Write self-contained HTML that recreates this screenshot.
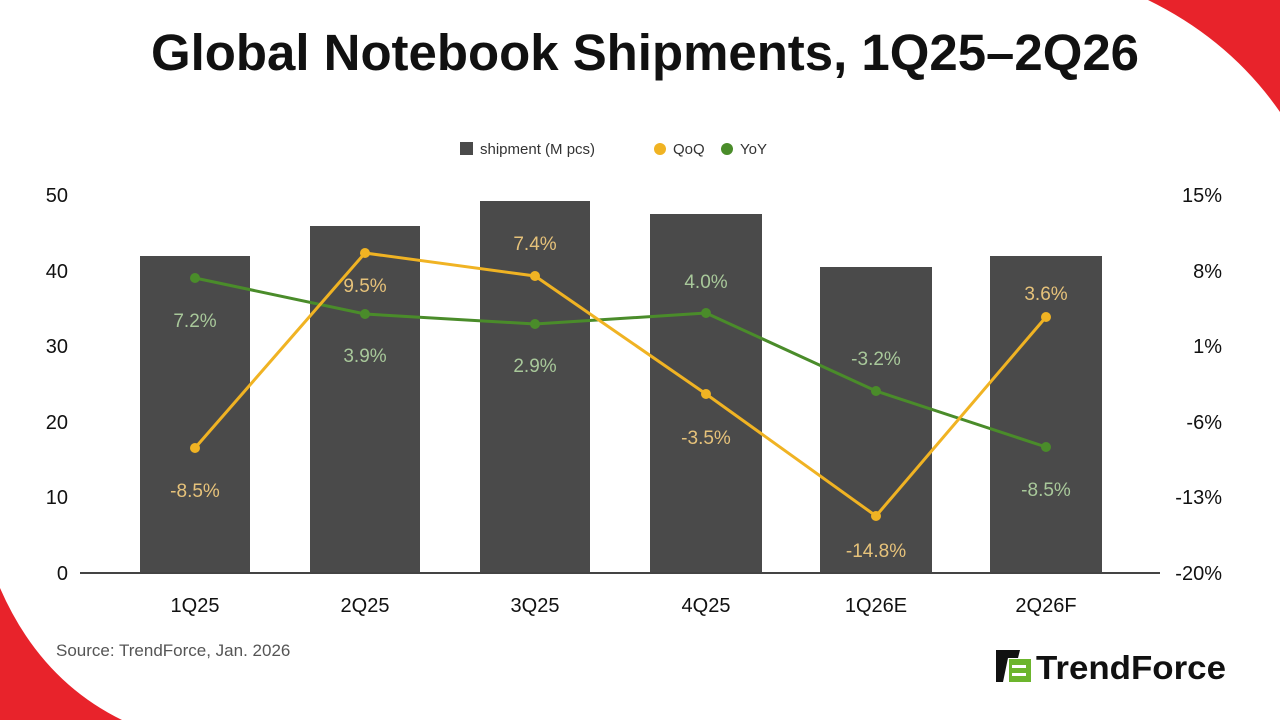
<!DOCTYPE html>
<html><head><meta charset="utf-8"><style>
html,body{margin:0;padding:0;background:#fff;}
svg{display:block;}
</style></head><body>
<svg width="1280" height="720" viewBox="0 0 1280 720" xmlns="http://www.w3.org/2000/svg" font-family="Liberation Sans, sans-serif">
<rect width="1280" height="720" fill="#fff"/>
<path d="M1148,0 Q1230,40 1280,112 L1280,0 Z" fill="#e8232b"/>
<path d="M0,588 Q40,680 122,720 L0,720 Z" fill="#e8232b"/>
<text x="645" y="70" text-anchor="middle" font-size="51" font-weight="bold" fill="#111" textLength="988" lengthAdjust="spacingAndGlyphs">Global Notebook Shipments, 1Q25–2Q26</text>
<!-- legend -->
<rect x="460" y="142" width="13" height="13" fill="#4a4a4a"/>
<text x="480" y="154" font-size="15" fill="#333">shipment (M pcs)</text>
<circle cx="660" cy="149" r="6" fill="#f0b323"/>
<text x="673" y="154" font-size="15" fill="#333">QoQ</text>
<circle cx="727" cy="149" r="6" fill="#4a8c2a"/>
<text x="740" y="154" font-size="15" fill="#333">YoY</text>
<!-- axes labels -->
<g font-size="20" fill="#111" text-anchor="end">
<text x="68" y="202">50</text><text x="68" y="278">40</text><text x="68" y="353">30</text>
<text x="68" y="429">20</text><text x="68" y="504">10</text><text x="68" y="580">0</text>
</g>
<g font-size="20" fill="#111" text-anchor="end">
<text x="1222" y="202">15%</text><text x="1222" y="278">8%</text><text x="1222" y="353">1%</text>
<text x="1222" y="429">-6%</text><text x="1222" y="504">-13%</text><text x="1222" y="580">-20%</text>
</g>
<!-- bars -->
<g fill="#4a4a4a">
<rect x="140" y="256" width="110" height="317"/>
<rect x="310" y="226" width="110" height="347"/>
<rect x="480" y="201" width="110" height="372"/>
<rect x="650" y="214" width="112" height="359"/>
<rect x="820" y="267" width="112" height="306"/>
<rect x="990" y="256" width="112" height="317"/>
</g>
<line x1="80" y1="573" x2="1160" y2="573" stroke="#444" stroke-width="2"/>
<g font-size="20" fill="#111" text-anchor="middle">
<text x="195" y="612">1Q25</text><text x="365" y="612">2Q25</text><text x="535" y="612">3Q25</text>
<text x="706" y="612">4Q25</text><text x="876" y="612">1Q26E</text><text x="1046" y="612">2Q26F</text>
</g>
<!-- lines -->
<polyline points="195,278 365,314 535,324 706,313 876,391 1046,447" fill="none" stroke="#4a8c2a" stroke-width="3"/>
<polyline points="195,448 365,253 535,276 706,394 876,516 1046,317" fill="none" stroke="#f0b323" stroke-width="3"/>
<g fill="#4a8c2a"><circle cx="195" cy="278" r="5"/><circle cx="365" cy="314" r="5"/><circle cx="535" cy="324" r="5"/><circle cx="706" cy="313" r="5"/><circle cx="876" cy="391" r="5"/><circle cx="1046" cy="447" r="5"/></g>
<g fill="#f0b323"><circle cx="195" cy="448" r="5"/><circle cx="365" cy="253" r="5"/><circle cx="535" cy="276" r="5"/><circle cx="706" cy="394" r="5"/><circle cx="876" cy="516" r="5"/><circle cx="1046" cy="317" r="5"/></g>
<g font-size="19" fill="#a8c89a" text-anchor="middle">
<text x="195" y="327">7.2%</text><text x="365" y="362">3.9%</text><text x="535" y="372">2.9%</text>
<text x="706" y="288">4.0%</text><text x="876" y="365">-3.2%</text><text x="1046" y="496">-8.5%</text>
</g>
<g font-size="19" fill="#e6c27a" text-anchor="middle">
<text x="195" y="497">-8.5%</text><text x="365" y="292">9.5%</text><text x="535" y="250">7.4%</text>
<text x="706" y="444">-3.5%</text><text x="876" y="557">-14.8%</text><text x="1046" y="300">3.6%</text>
</g>
<text x="56" y="656" font-size="17" fill="#555">Source: TrendForce, Jan. 2026</text>
<!-- logo -->
<path d="M996,650 L1020,650 L1018,658 L1008,658 L1003,682 L996,682 Z" fill="#111"/>
<rect x="1009" y="659" width="22" height="23" fill="#6cb52d"/>
<rect x="1012" y="665" width="14" height="3" fill="#fff"/>
<rect x="1012" y="673" width="14" height="3" fill="#fff"/>
<text x="1036" y="679" font-size="33" font-weight="bold" fill="#111" textLength="190" lengthAdjust="spacingAndGlyphs">TrendForce</text>
</svg>
</body></html>
